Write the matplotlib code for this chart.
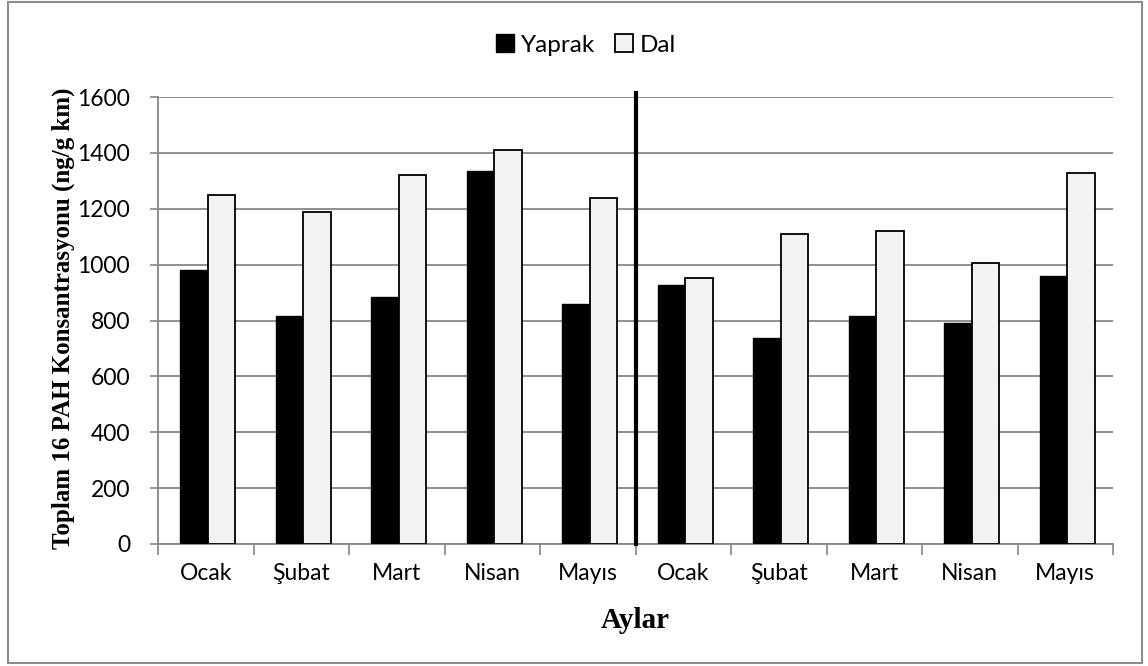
import matplotlib
matplotlib.use("Agg")
import matplotlib.pyplot as plt
from matplotlib.patches import Rectangle, Patch
import numpy as np

months = ["Ocak", "Şubat", "Mart", "Nisan", "Mayıs", "Ocak", "Şubat", "Mart", "Nisan", "Mayıs"]
yaprak = [980, 816, 885, 1335, 860, 928, 738, 815, 790, 959]
dal = [1248, 1189, 1322, 1409, 1237, 951, 1110, 1120, 1005, 1328]
yticks = [0, 200, 400, 600, 800, 1000, 1200, 1400, 1600]

W, H = 1148, 666
fig = plt.figure(figsize=(W / 100, H / 100), dpi=100)
fig.patch.set_facecolor("white")

# outer chart border
fig.add_artist(Rectangle((8 / W, 3 / H), (1142 - 8) / W, (664 - 3) / H,
                         transform=fig.transFigure, fill=False,
                         edgecolor="#8c8c8c", lw=1.5))

ax = fig.add_axes([158 / W, (H - 544) / H, (1113 - 158) / W, (544 - 97) / H])

grid_c = "#868686"
x = np.arange(len(months))
bw = 0.288
ax.bar(x - bw / 2 + 0.02, yaprak, width=bw, color="black", edgecolor="black", lw=1.0, zorder=3, label="Yaprak")
ax.bar(x + bw / 2 + 0.02, dal, width=bw, color="#f2f2f2", edgecolor="black", lw=1.3, zorder=3, label="Dal")

ax.set_xlim(-0.5, len(months) - 0.5)
ax.set_ylim(0, 1600)
ax.set_yticks(yticks)
ax.yaxis.grid(True, color=grid_c, lw=1.3, zorder=0)
ax.set_axisbelow(True)

for s in ["top", "right"]:
    ax.spines[s].set_visible(False)
ax.spines["left"].set_color(grid_c)
ax.spines["bottom"].set_color(grid_c)
ax.spines["left"].set_linewidth(1.3)
ax.spines["bottom"].set_linewidth(1.3)

ax.tick_params(axis="y", colors=grid_c, length=6, width=1.2, labelcolor="black",
               labelsize=16.5, pad=14)
for lab in ax.get_yticklabels():
    lab.set_fontfamily("Lato")

# x ticks at boundaries, labels at centers
ax.set_xticks(np.arange(-0.5, len(months)), minor=False)
ax.set_xticklabels([])
ax.tick_params(axis="x", which="major", colors=grid_c, length=8, width=1.2)
ax.set_xticks(x, minor=True)
ax.set_xticklabels(months, minor=True, fontsize=16.5, family="Lato")
ax.tick_params(axis="x", which="minor", length=0, pad=14, labelcolor="black")

# separator line
ax.plot([4.5, 4.5], [0, 1615], color="black", lw=3.0, clip_on=False, zorder=4)

ax.set_xlabel("Aylar", fontsize=21, fontweight="bold", family="Liberation Serif", labelpad=16)
fig.text(63 / W, 1 - 318 / H, "Toplam 16 PAH Konsantrasyonu (ng/g km)", rotation=90,
         ha="center", va="center", fontsize=18, fontweight="bold", family="Liberation Serif")

handles = [Patch(facecolor="black", edgecolor="black", lw=1.0),
           Patch(facecolor="#f2f2f2", edgecolor="black", lw=1.3)]
fig.legend(handles, ["Yaprak", "Dal"], loc="center", bbox_to_anchor=(586 / W, 1 - 45 / H),
           ncol=2, frameon=False, prop={"family": "Lato", "size": 17.5},
           handlelength=0.75, handleheight=0.75, handletextpad=0.3, columnspacing=0.8)

fig.savefig("out.png", dpi=100)
